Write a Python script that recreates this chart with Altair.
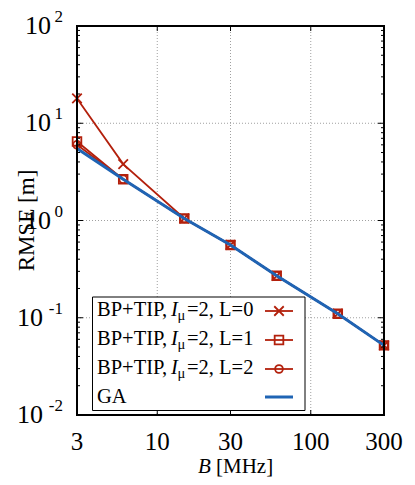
import altair as alt
import pandas as pd

# ---------------- data ----------------
B_MHZ = [3, 6, 15, 30, 60, 150, 300]
RMSE_L0 = [18.0, 3.8, 1.05, 0.56, 0.27, 0.11, 0.052]
RMSE_L1 = [6.5, 2.65, 1.05, 0.56, 0.27, 0.11, 0.052]
RMSE_L2 = [6.0, 2.65, 1.05, 0.56, 0.27, 0.11, 0.052]
RMSE_GA = [5.5, 2.65, 1.05, 0.56, 0.27, 0.11, 0.052]
SERIES = ["L=0", "L=1", "L=2", "GA"]

X_TICKS = [3, 10, 30, 100, 300]
X_TICK_LABELS = ["3", "10", "30", "100", "300"]
X_GRID = [10, 30, 100]
Y_TICKS = [0.01, 0.1, 1, 10, 100]
Y_EXP = ["-2", "-1", "0", "1", "2"]
Y_GRID = [0.1, 1, 10]
Y_MINOR = [m * 10.0 ** e for e in range(-2, 2) for m in range(2, 10)]

LEGEND_L = ["0", "1", "2"]

FONT = "Liberation Serif"
RED = "#b3200c"
BLUE = "#1f64b4"
W, H = 307, 389

xs = alt.Scale(type="log", domain=[3, 300], nice=False)
ys = alt.Scale(type="log", domain=[0.01, 100], nice=False)

rows = []
for name, vals in zip(SERIES, [RMSE_L0, RMSE_L1, RMSE_L2, RMSE_GA]):
    for b, r in zip(B_MHZ, vals):
        rows.append({"series": name, "B": b, "RMSE": r})
df = pd.DataFrame(rows)

X_PATH = "M-1,-1L1,1M-1,1L1,-1"

layers = []

# dotted grid
xgrid = alt.Chart(pd.DataFrame({"v": X_GRID})).mark_rule(
    color="#a0a0a0", strokeWidth=1, strokeDash=[1, 2]
).encode(x=alt.X("v:Q", scale=xs, axis=None), y=alt.value(0), y2=alt.value(H))
ygrid = alt.Chart(pd.DataFrame({"v": Y_GRID})).mark_rule(
    color="#a0a0a0", strokeWidth=1, strokeDash=[1, 2]
).encode(y=alt.Y("v:Q", scale=ys, axis=None), x=alt.value(0), x2=alt.value(W))
layers += [xgrid, ygrid]

red_lines = alt.Chart(df).transform_filter("datum.series != 'GA'").mark_line(
    color=RED, strokeWidth=1.8
).encode(
    x=alt.X("B:Q", scale=xs, axis=None),
    y=alt.Y("RMSE:Q", scale=ys, axis=None),
    detail="series:N",
)
layers.append(red_lines)

def pts(series, **mk):
    return alt.Chart(df).transform_filter(f"datum.series == '{series}'").mark_point(
        color=RED, filled=False, strokeWidth=1.8, opacity=1, **mk
    ).encode(
        x=alt.X("B:Q", scale=xs, axis=None),
        y=alt.Y("RMSE:Q", scale=ys, axis=None),
    )

layers.append(pts("L=0", shape=X_PATH, size=90))
layers.append(pts("L=1", shape="square", size=75))
layers.append(pts("L=2", shape="circle", size=60))

ga_line = alt.Chart(df).transform_filter("datum.series == 'GA'").mark_line(
    color=BLUE, strokeWidth=3
).encode(
    x=alt.X("B:Q", scale=xs, axis=None),
    y=alt.Y("RMSE:Q", scale=ys, axis=None),
)
layers.append(ga_line)

# ---------------- inward ticks ----------------
ymin_df = pd.DataFrame({"v": Y_MINOR})
ymaj_df = pd.DataFrame({"v": Y_GRID})
xmaj_df = pd.DataFrame({"v": X_GRID})

def yticks(data, x0, x1):
    return alt.Chart(data).mark_rule(color="black", strokeWidth=1).encode(
        y=alt.Y("v:Q", scale=ys, axis=None), x=alt.value(x0), x2=alt.value(x1))

def xticks(data, y0, y1):
    return alt.Chart(data).mark_rule(color="black", strokeWidth=1).encode(
        x=alt.X("v:Q", scale=xs, axis=None), y=alt.value(y0), y2=alt.value(y1))

layers += [yticks(ymin_df, 0, 3), yticks(ymin_df, W, W - 3),
           yticks(ymaj_df, 0, 6), yticks(ymaj_df, W, W - 6),
           xticks(xmaj_df, 0, 5), xticks(xmaj_df, H, H - 5)]

# ---------------- x tick labels ----------------
xlab = pd.DataFrame({"v": X_TICKS, "t": X_TICK_LABELS})
layers.append(alt.Chart(xlab).mark_text(
    align="center", baseline="top", font=FONT, fontSize=25, color="black"
).encode(x=alt.X("v:Q", scale=xs, axis=None), y=alt.value(H + 15), text="t:N"))

# ---------------- y tick labels 10^n ----------------
ylab = pd.DataFrame({"v": Y_TICKS, "e": Y_EXP})
base_pos = alt.Chart(ylab).transform_filter("datum.v >= 1").mark_text(
    text="10", align="right", baseline="middle", font=FONT, fontSize=26, color="black"
).encode(y=alt.Y("v:Q", scale=ys, axis=None), x=alt.value(-26))
base_neg = alt.Chart(ylab).transform_filter("datum.v < 1").mark_text(
    text="10", align="right", baseline="middle", font=FONT, fontSize=26, color="black"
).encode(y=alt.Y("v:Q", scale=ys, axis=None), x=alt.value(-34))
exps = alt.Chart(ylab).mark_text(
    align="right", baseline="middle", font=FONT, fontSize=17, dy=-9, color="black"
).encode(y=alt.Y("v:Q", scale=ys, axis=None), x=alt.value(-14), text="e:N")
layers += [base_pos, base_neg, exps]

# ---------------- axis titles ----------------
def txt(t, x, y, size, **kw):
    return alt.Chart(pd.DataFrame({"t": [t]})).mark_text(
        font=FONT, fontSize=size, color="black", **kw
    ).encode(text="t:N", x=alt.value(x), y=alt.value(y))

layers.append(txt("RMSE [m]", -50, H / 2, 23, angle=270, align="center", baseline="middle"))
layers.append(txt("B", 121, 447, 21, fontStyle="italic", align="left", baseline="alphabetic"))
layers.append(txt("[MHz]", 139, 447, 21, align="left", baseline="alphabetic"))

# ---------------- legend ----------------
layers.append(alt.Chart(pd.DataFrame({"a": [0]})).mark_rect(
    fill="white", stroke="black", strokeWidth=1
).encode(x=alt.value(15.5), x2=alt.value(228), y=alt.value(271), y2=alt.value(384.5)))

BASELINES = [290, 319, 348, 377]
for i, lv in enumerate(LEGEND_L):
    yb = BASELINES[i]
    layers.append(txt("BP+TIP,", 20, yb, 20.5, align="left", baseline="alphabetic"))
    layers.append(txt("I", 94, yb, 20.5, fontStyle="italic", align="left", baseline="alphabetic"))
    layers.append(txt("μ", 100.5, yb + 4, 14.5, align="left", baseline="alphabetic"))
    layers.append(txt("=2, L=" + lv, 110, yb, 20.5, align="left", baseline="alphabetic"))
layers.append(txt("GA", 20, BASELINES[3], 20.5, align="left", baseline="alphabetic"))

for i, (shape, size) in enumerate([(X_PATH, 90), ("square", 75), ("circle", 60)]):
    yl = BASELINES[i] - 5
    layers.append(alt.Chart(pd.DataFrame({"a": [0]})).mark_rule(color=RED, strokeWidth=1.8).encode(
        x=alt.value(188), x2=alt.value(216), y=alt.value(yl)))
    layers.append(alt.Chart(pd.DataFrame({"a": [0]})).mark_point(
        shape=shape, size=size, filled=False, color=RED, strokeWidth=1.8, opacity=1
    ).encode(x=alt.value(202), y=alt.value(yl)))
layers.append(alt.Chart(pd.DataFrame({"a": [0]})).mark_rule(color=BLUE, strokeWidth=3).encode(
    x=alt.value(188), x2=alt.value(216), y=alt.value(BASELINES[3] - 6)))

# ---------------- frame ----------------
layers.append(alt.Chart(pd.DataFrame({"a": [0]})).mark_rect(
    fill=None, stroke="black", strokeWidth=2
).encode(x=alt.value(0), x2=alt.value(W), y=alt.value(0), y2=alt.value(H)))

chart = alt.layer(*layers).properties(
    width=W, height=H,
    autosize=alt.AutoSizeParams(type="none"),
    padding={"left": 69, "top": 18, "right": 23, "bottom": 62},
).configure_view(stroke=None)

chart.save("out.html", embed_options={"renderer": "svg", "actions": False})
